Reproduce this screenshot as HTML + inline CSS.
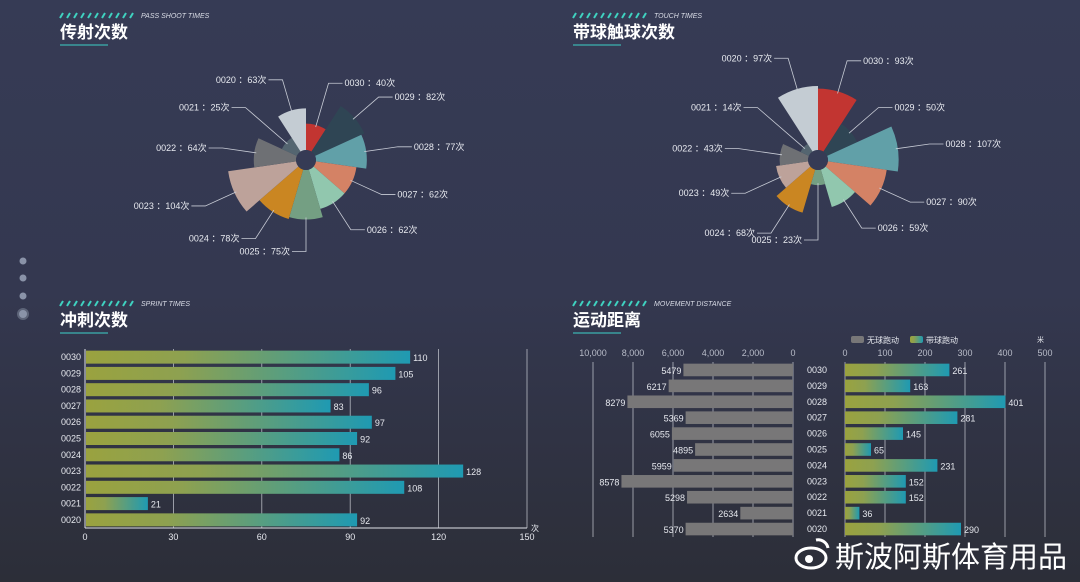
<!DOCTYPE html>
<html><head><meta charset="utf-8"><style>
html,body{margin:0;padding:0;width:1080px;height:582px;overflow:hidden;background:linear-gradient(#363b55,#343850 50%,#2c2e38);font-family:"Liberation Sans","Noto Sans CJK SC",sans-serif;}
svg{display:block}
</style></head><body>
<svg id="s" width="1080" height="582" xmlns="http://www.w3.org/2000/svg">
<defs>
<linearGradient id="g" x1="0" x2="1" y1="0" y2="0"><stop offset="0" stop-color="#9aa23f"/><stop offset="0.3" stop-color="#8ea150"/><stop offset="1" stop-color="#1f9ab2"/></linearGradient>
</defs>
<g id="side">
<circle cx="23" cy="261" r="3.5" fill="#8a93a8"/>
<circle cx="23" cy="278" r="3.5" fill="#8a93a8"/>
<circle cx="23" cy="296" r="3.5" fill="#8a93a8"/>
<circle cx="23" cy="314" r="5" fill="#8a93a8" stroke="#5d6478" stroke-width="2"/>
</g>
<g id="titles"></g>
<g id="pie1"></g>
<g id="pie2"></g>
<g id="bar1"></g>
<g id="bar2"></g>
<text x="835" y="567" font-size="29" fill="#ffffff">斯波阿斯体育用品</text>
<g><ellipse cx="811" cy="558" rx="15" ry="10" fill="none" stroke="#fff" stroke-width="3"/><circle cx="809" cy="559" r="4" fill="#fff"/><path d="M816 540 a10 10 0 0 1 12 8" stroke="#fff" stroke-width="3" fill="none"/></g>
</svg>
<script>
const NS='http://www.w3.org/2000/svg';
function mk(p,t,a,txt){const e=document.createElementNS(NS,t);for(const k in a)e.setAttribute(k,a[k]);if(txt!==undefined)e.textContent=txt;p.appendChild(e);return e;}
// ===== data =====
const pieCats=['0030','0029','0028','0027','0026','0025','0024','0023','0022','0021','0020'];
const passVals=[40,82,77,62,62,75,78,104,64,25,63];
const touchVals=[93,50,107,90,59,23,68,49,43,14,97];
const sprintCats=['0030','0029','0028','0027','0026','0025','0024','0023','0022','0021','0020'];
const sprintVals=[110,105,96,83,97,92,86,128,108,21,92];
const sprintTicks=[0,30,60,90,120,150];
const distCats=['0030','0029','0028','0027','0026','0025','0024','0023','0022','0021','0020'];
const noBallVals=[5479,6217,8279,5369,6055,4895,5959,8578,5298,2634,5370];
const withBallVals=[261,163,401,281,145,65,231,152,152,36,290];
const noBallTicks=[10000,8000,6000,4000,2000,0];
const withBallTicks=[0,100,200,300,400,500];
const colors=['#c23531','#2f4554','#61a0a8','#d48265','#91c7ae','#749f83','#ca8622','#bda29a','#6e7074','#546570','#c4ccd3'];

const T=document.getElementById('titles');
function title(x,y,en,cn,nm){
  const g=mk(T,'g',{});
  
  
  for(let i=0;i<11;i++){mk(g,'line',{x1:x+i*7,y1:y+3,x2:x+i*7+3,y2:y-2,stroke:'#3fd2c0','stroke-width':2});}
  mk(g,'text',{x:x+81,y:y+3,'font-size':7,'font-style':'italic',fill:'#d9dce6'},en);
  mk(g,'text',{x:x,y:y+23,'font-size':17,'font-weight':'bold',fill:'#ffffff'},cn);
  mk(g,'line',{x1:x,y1:y+30,x2:x+48,y2:y+30,stroke:'#3a9ea0','stroke-width':1.5});
}
title(60,15,'PASS SHOOT TIMES','传射次数','pass-shoot-title');
title(573,15,'TOUCH TIMES','带球触球次数','touch-title');
title(60,303,'SPRINT TIMES','冲刺次数','sprint-title');
title(573,303,'MOVEMENT DISTANCE','运动距离','distance-title');

function rose(id,cx,cy,vals){
  const G=document.getElementById(id);
  const n=vals.length, step=2*Math.PI/n, r0=10, k=0.66;
  const rad=v=>r0+v*k;
  vals.forEach((v,i)=>{
    const a0=-Math.PI/2+i*step,a1=a0+step,r=rad(v);
    const p=(a,rr)=>[cx+rr*Math.cos(a),cy+rr*Math.sin(a)];
    const [x0,y0]=p(a0,r0),[x1,y1]=p(a0,r),[x2,y2]=p(a1,r),[x3,y3]=p(a1,r0);
    const s=mk(G,'path',{d:`M${x0},${y0}L${x1},${y1}A${r},${r} 0 0 1 ${x2},${y2}L${x3},${y3}A${r0},${r0} 0 0 0 ${x0},${y0}Z`,fill:colors[i]});
    
    
    const am=(a0+a1)/2,right=Math.cos(am)>=0;
    const [lx0,ly0]=p(am,r-2);
    const lr=Math.max(r+14,62);
    const [lx1,ly1]=p(am,lr+18);
    const lx2=lx1+(right?14:-14);
    mk(G,'polyline',{points:`${lx0},${ly0} ${lx1},${ly1} ${lx2},${ly1}`,fill:'none',stroke:'#c8ccd6','stroke-width':0.8});
    const t=mk(G,'text',{x:lx2+(right?2:-2),y:ly1+3,'font-size':9,fill:'#e8eaf0','text-anchor':right?'start':'end'},pieCats[i]+' ：'+v+'次');
    
    
  });
  mk(G,'circle',{cx:cx,cy:cy,r:r0,fill:'#363b55'});
}
rose('pie1',306,160,passVals);
rose('pie2',818,160,touchVals);

(function(){
  const G=document.getElementById('bar1');
  const x0=85,x1=527,yTop=349,yBot=528;
  const xs=v=>x0+(v-0)/(150-0)*(x1-x0);
  const step=(yBot-yTop)/sprintCats.length;
  sprintTicks.forEach(t=>{
    if(t>0)mk(G,'line',{x1:xs(t),x2:xs(t),y1:yTop,y2:yBot,stroke:'#d8dbe2','stroke-width':0.8,opacity:0.8});
    const tl=mk(G,'text',{x:xs(t),y:yBot+12,'font-size':9,fill:'#e6e8ee','text-anchor':'middle'},t);
    
    
  });
  mk(G,'line',{x1:x0,x2:x1,y1:yBot,y2:yBot,stroke:'#e0e2e8','stroke-width':1});
  mk(G,'line',{x1:x0,x2:x0,y1:yTop,y2:yBot,stroke:'#e0e2e8','stroke-width':1});
  mk(G,'text',{x:531,y:531,'font-size':8,fill:'#e6e8ee'},'次');
  sprintCats.forEach((c,i)=>{
    const cy=yTop+step*(i+0.5);
    mk(G,'text',{x:x0-4,y:cy+3,'font-size':9,fill:'#e6e8ee','text-anchor':'end'},c);
    const w=xs(sprintVals[i])-x0;
    const b=mk(G,'rect',{x:x0+1,y:cy-6.5,width:w,height:13,fill:'url(#g)'});
    
    
    mk(G,'text',{x:x0+w+4,y:cy+4,'font-size':9,fill:'#e6e8ee'},sprintVals[i]);
  });
})();

(function(){
  const G=document.getElementById('bar2');
  const lx0=593,lx1=793,rx0=845,rx1=1045,yTop=362,yBot=537;
  const ls=v=>lx1-(v/10000)*(lx1-lx0);
  const rs=v=>rx0+(v/500)*(rx1-rx0);
  const step=(yBot-yTop)/distCats.length;
  noBallTicks.forEach(t=>{
    mk(G,'line',{x1:ls(t),x2:ls(t),y1:yTop,y2:yBot,stroke:'#d8dbe2','stroke-width':0.8,opacity:0.8});
    mk(G,'text',{x:ls(t),y:356,'font-size':9,fill:'#b8bcc8','text-anchor':'middle'},t.toLocaleString('en-US'));
  });
  withBallTicks.forEach(t=>{
    mk(G,'line',{x1:rs(t),x2:rs(t),y1:yTop,y2:yBot,stroke:'#d8dbe2','stroke-width':0.8,opacity:0.8});
    mk(G,'text',{x:rs(t),y:356,'font-size':9,fill:'#b8bcc8','text-anchor':'middle'},t);
  });
  distCats.forEach((c,i)=>{
    const cy=yTop+step*(i+0.5);
    mk(G,'text',{x:817,y:cy+3,'font-size':9,fill:'#e6e8ee','text-anchor':'middle'},c);
    const lw=lx1-ls(noBallVals[i]);
    const b=mk(G,'rect',{x:lx1-lw,y:cy-6.3,width:lw,height:12.6,fill:'#787778'});
    
    
    mk(G,'text',{x:lx1-lw-2,y:cy+4,'font-size':9,fill:'#e6e8ee','text-anchor':'end'},noBallVals[i]);
    const rw=rs(withBallVals[i])-rx0;
    const b2=mk(G,'rect',{x:rx0,y:cy-6.3,width:rw,height:12.6,fill:'url(#g)'});
    
    
    mk(G,'text',{x:rx0+rw+3,y:cy+4,'font-size':9,fill:'#e6e8ee'},withBallVals[i]);
  });
  const lg=mk(G,'g',{});
  
  
  mk(lg,'rect',{x:851,y:336,width:13,height:7,rx:2,fill:'#787778'});
  mk(lg,'text',{x:867,y:343,'font-size':8,fill:'#e6e8ee'},'无球跑动');
  mk(lg,'rect',{x:910,y:336,width:13,height:7,rx:2,fill:'url(#g)'});
  mk(lg,'text',{x:926,y:343,'font-size':8,fill:'#e6e8ee'},'带球跑动');
  mk(G,'text',{x:1037,y:342,'font-size':7,fill:'#e6e8ee'},'米');
})();
</script>
</body></html>
